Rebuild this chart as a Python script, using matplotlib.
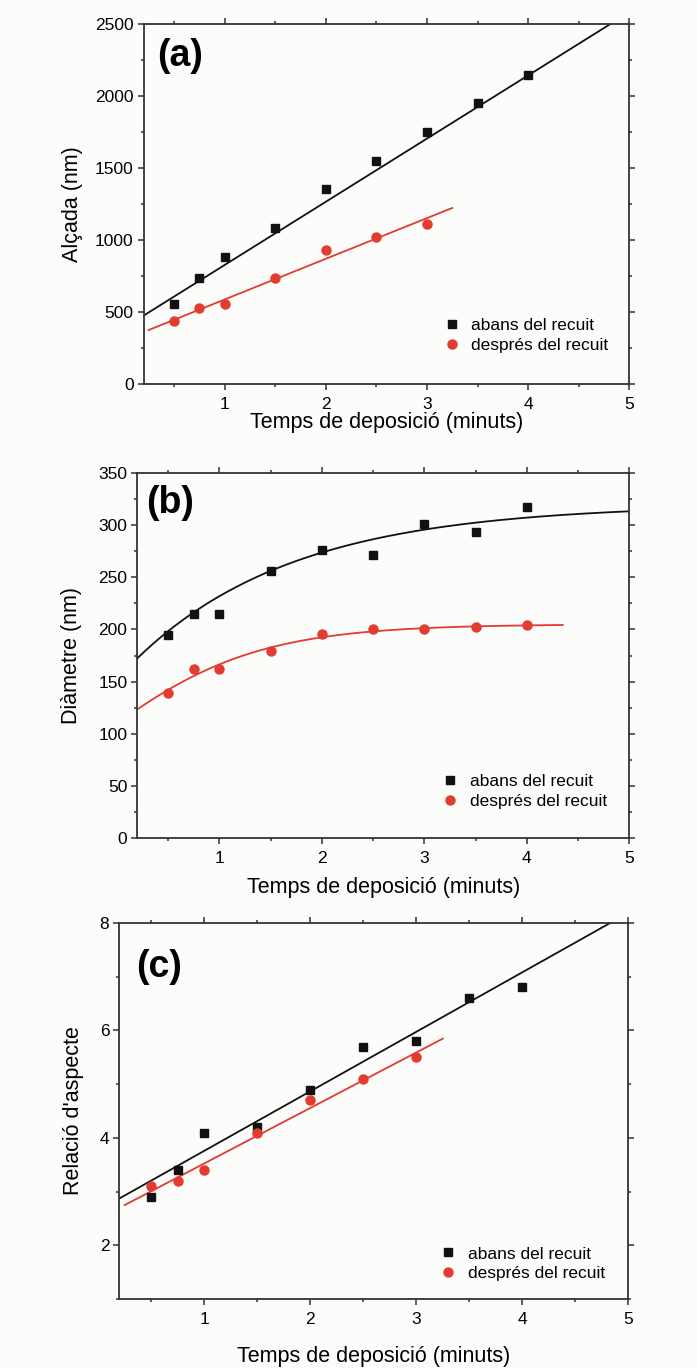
import numpy as np
import matplotlib.pyplot as plt
from matplotlib.ticker import MultipleLocator

plt.rcParams['font.family'] = ['Liberation Sans', 'DejaVu Sans']

# deposition times (minutes)
t_abans = [0.5, 0.75, 1.0, 1.5, 2.0, 2.5, 3.0, 3.5, 4.0]
t_despres_a = [0.5, 0.75, 1.0, 1.5, 2.0, 2.5, 3.0]
t_despres_b = [0.5, 0.75, 1.0, 1.5, 2.0, 2.5, 3.0, 3.5, 4.0]

# (a) height (nm)
alcada_abans = [555, 734, 884, 1086, 1352, 1549, 1750, 1949, 2148]
alcada_despres = [435, 528, 556, 738, 933, 1019, 1109]

# (b) diameter (nm)
diam_abans = [195, 215, 215, 256, 276, 271, 301, 293, 317]
diam_despres = [139, 162, 162, 179, 196, 200, 200, 202, 204]

# (c) aspect ratio
rel_abans = [2.9, 3.4, 4.1, 4.2, 4.9, 5.7, 5.8, 6.6, 6.8]
rel_despres = [3.1, 3.2, 3.4, 4.1, 4.7, 5.1, 5.5]

# fitted curves
fit_a_abans = (439.0, 387.0)        # slope, intercept
fit_a_despres = (282.6, 304.0)
fit_b_abans = (320.0, 168.0, 1.55)  # A - B*exp(-x/tau)
fit_b_despres = (-29.0, 205.0, -0.3, 0.8)  # Boltzmann A1, A2, x0, dx
fit_c_abans = (1.108, 2.65)
fit_c_despres = (1.033, 2.49)

RED = '#e23b30'
BLACK = '#111111'
BG = '#fcfcfa'
LEG = ['abans del recuit', 'després del recuit']


def style_axes(ax, ylim, ymaj, ymin_step, panel, panel_xy, leg_xy, ylab_x, xlab_y):
    ax.set_facecolor(BG)
    ax.set_xlim(0.2, 5)
    ax.set_ylim(*ylim)
    ax.xaxis.set_major_locator(MultipleLocator(1))
    ax.xaxis.set_minor_locator(MultipleLocator(0.5))
    ax.yaxis.set_major_locator(MultipleLocator(ymaj))
    ax.yaxis.set_minor_locator(MultipleLocator(ymin_step))
    ax.tick_params(which='both', direction='out', top=True, right=True,
                   labelsize=12.5, width=1.1, color='#333333', pad=3)
    ax.tick_params(axis='x', which='both', pad=5)
    ax.tick_params(which='major', length=4.2)
    ax.tick_params(which='minor', length=2.5)
    for s in ax.spines.values():
        s.set_linewidth(1.3)
        s.set_color('#333333')
    ax.set_xlabel('Temps de deposició (minuts)', fontsize=15.5)
    ax.xaxis.set_label_coords(0.5, xlab_y)
    ax.xaxis.label.set_verticalalignment('center')
    ax.yaxis.set_label_coords(ylab_x, 0.5)
    ax.text(panel_xy[0], panel_xy[1], panel, transform=ax.transAxes, fontsize=27,
            fontweight='bold', va='top', ha='left')
    ax.legend(loc='center left', bbox_to_anchor=leg_xy, frameon=False,
              fontsize=12.5, handletextpad=0.65, handlelength=1.0,
              labelspacing=0.25, borderaxespad=0, borderpad=0)


fig = plt.figure(figsize=(6.97, 13.68), dpi=100)
fig.patch.set_facecolor(BG)

# panel (a)
ax1 = fig.add_axes([0.2060, 0.7193, 0.6970, 0.2632])
xf = np.linspace(0.2, 5, 50)
ax1.plot(xf, fit_a_abans[0] * xf + fit_a_abans[1], color=BLACK, lw=1.3)
xf = np.linspace(0.25, 3.25, 50)
ax1.plot(xf, fit_a_despres[0] * xf + fit_a_despres[1], color=RED, lw=1.3)
ax1.plot(t_abans, alcada_abans, 's', color=BLACK, ms=5.8, label=LEG[0])
ax1.plot(t_despres_a, alcada_despres, 'o', color=RED, ms=6.5, label=LEG[1])
ax1.set_ylabel('Alçada (nm)', fontsize=15.5)
style_axes(ax1, (0, 2500), 500, 250, '(a)', (0.028, 0.96), (0.616, 0.135),
           -0.125, -0.108)

# panel (b)
ax2 = fig.add_axes([0.1970, 0.3874, 0.7060, 0.2668])
xf = np.linspace(0.2, 5, 200)
A, B, tau = fit_b_abans
ax2.plot(xf, A - B * np.exp(-xf / tau), color=BLACK, lw=1.3)
xf = np.linspace(0.2, 4.35, 200)
A1, A2, x0, dx = fit_b_despres
ax2.plot(xf, A2 + (A1 - A2) / (1 + np.exp((xf - x0) / dx)), color=RED, lw=1.3)
ax2.plot(t_abans, diam_abans, 's', color=BLACK, ms=5.8, label=LEG[0])
ax2.plot(t_despres_b, diam_despres, 'o', color=RED, ms=6.5, label=LEG[1])
ax2.set_ylabel('Diàmetre (nm)', fontsize=15.5)
style_axes(ax2, (0, 350), 50, 25, '(b)', (0.017, 0.968), (0.618, 0.128),
           -0.112, -0.136)

# panel (c)
ax3 = fig.add_axes([0.1712, 0.0504, 0.7303, 0.2749])
xf = np.linspace(0.2, 5, 50)
ax3.plot(xf, fit_c_abans[0] * xf + fit_c_abans[1], color=BLACK, lw=1.3)
xf = np.linspace(0.25, 3.25, 50)
ax3.plot(xf, fit_c_despres[0] * xf + fit_c_despres[1], color=RED, lw=1.3)
ax3.plot(t_abans, rel_abans, 's', color=BLACK, ms=5.8, label=LEG[0])
ax3.plot(t_despres_a, rel_despres, 'o', color=RED, ms=6.5, label=LEG[1])
ax3.set_ylabel("Relació d'aspecte", fontsize=15.5)
style_axes(ax3, (1, 8), 2, 1, '(c)', (0.033, 0.93), (0.629, 0.094),
           -0.07, -0.152)

fig.savefig('out.png', dpi=100, facecolor=fig.get_facecolor())
